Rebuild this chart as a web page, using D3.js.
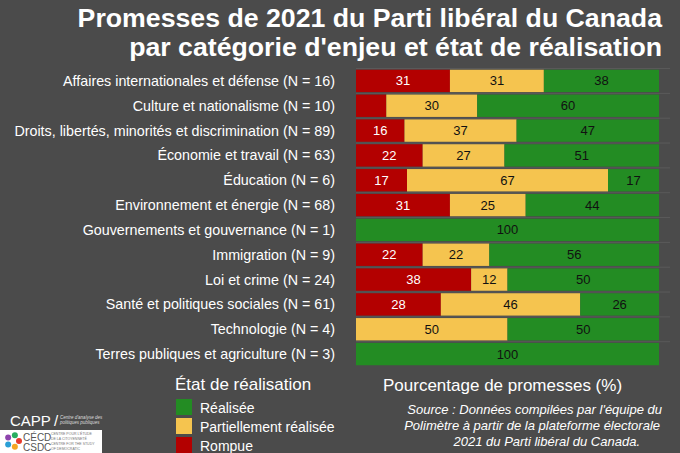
<!DOCTYPE html>
<html><head><meta charset="utf-8">
<script src="https://cdn.jsdelivr.net/npm/d3@7"></script>
<style>body{margin:0;background:#4b4b4b}svg{display:block;font-family:"Liberation Sans",Arial,sans-serif}</style>
</head><body><svg id="c" width="680" height="453"></svg>
<script>
var categories = ["Affaires internationales et défense (N = 16)","Culture et nationalisme (N = 10)","Droits, libertés, minorités et discrimination (N = 89)","Économie et travail (N = 63)","Éducation (N = 6)","Environnement et énergie (N = 68)","Gouvernements et gouvernance (N = 1)","Immigration (N = 9)","Loi et crime (N = 24)","Santé et politiques sociales (N = 61)","Technologie (N = 4)","Terres publiques et agriculture (N = 3)"];
var rompue = [31,10,16,22,17,31,0,22,38,28,0,0];
var partielle = [31,30,37,27,67,25,0,22,12,46,50,0];
var realisee = [38,60,47,51,17,44,100,56,50,26,50,100];
var showRompueLabel = [true,false,true,true,true,true,false,true,true,true,false,false];

var svg = d3.select("#c");
var colors = {r:"#b30000", p:"#f5c44f", g:"#238c23"};

svg.append("text").attr("x",662).attr("y",27).attr("text-anchor","end").attr("fill","#fff")
  .attr("font-size",26.7).attr("font-weight","bold").text("Promesses de 2021 du Parti libéral du Canada");
svg.append("text").attr("x",662).attr("y",56).attr("text-anchor","end").attr("fill","#fff")
  .attr("font-size",26.7).attr("font-weight","bold").text("par catégorie d'enjeu et état de réalisation");

var y = d3.scaleBand().domain(categories).range([68.5,366.5]).paddingInner(0.1).paddingOuter(0.05);
var x0 = 356, x1 = 659;

// faint gridlines
svg.append("g").selectAll("line").data(categories).join("line")
  .attr("x1",x0).attr("x2",670).attr("y1",d=>y(d)-1.2).attr("y2",d=>y(d)-1.2)
  .attr("stroke","#5a5a5a").attr("stroke-width",1);

categories.forEach(function(c,i){
  var segs = [{v:rompue[i],k:"r",show:showRompueLabel[i]},{v:partielle[i],k:"p",show:true},{v:realisee[i],k:"g",show:true}];
  var total = d3.sum(segs,d=>d.v);
  var x = d3.scaleLinear().domain([0,total]).range([x0,x1]);
  var acc = 0;
  segs.forEach(function(s){
    if(s.v<=0) return;
    var a = acc, b = acc + s.v; acc = b;
    svg.append("rect").attr("x",x(a)).attr("y",y(c)).attr("width",x(b)-x(a)).attr("height",y.bandwidth()).attr("fill",colors[s.k]);
    if(s.show) svg.append("text").attr("x",(x(a)+x(b))/2).attr("y",y(c)+y.bandwidth()/2+4.5)
      .attr("text-anchor","middle").attr("font-size",13).attr("fill",s.k=="r"?"#fff":"#111").text(s.v);
  });
  svg.append("text").attr("x",335).attr("y",y(c)+y.bandwidth()/2+5).attr("text-anchor","end")
    .attr("font-size",14.3).attr("fill","#fff").text(c);
});

// legend
svg.append("text").attr("x",175).attr("y",390).attr("fill","#fff").attr("font-size",17).text("État de réalisation");
var leg = [["Réalisée",colors.g],["Partiellement réalisée",colors.p],["Rompue",colors.r]];
leg.forEach(function(l,i){
  svg.append("rect").attr("x",176).attr("y",399+i*19).attr("width",16).attr("height",16).attr("fill",l[1]);
  svg.append("text").attr("x",200).attr("y",413+i*19).attr("fill","#fff").attr("font-size",14).text(l[0]);
});

svg.append("text").attr("x",383).attr("y",391).attr("fill","#fff").attr("font-size",17).text("Pourcentage de promesses (%)");
["Source : Données compilées par l'équipe du","Polimètre à partir de la plateforme électorale","2021 du Parti libéral du Canada."].forEach(function(t,i){
  svg.append("text").attr("x",[662,660,640][i]).attr("y",414+i*16).attr("text-anchor","end").attr("fill","#fff")
    .attr("font-size",13).attr("font-style","italic").text(t);
});

// logos
svg.append("text").attr("x",10).attr("y",426).attr("fill","#fff").attr("font-size",15).text("CAPP");
svg.append("text").attr("x",54).attr("y",426).attr("fill","#fff").attr("font-size",15).text("/");
svg.append("text").attr("x",60).attr("y",419).attr("fill","#ddd").attr("font-size",4.5).attr("font-style","italic").text("Centre d'analyse des");
svg.append("text").attr("x",60).attr("y",424).attr("fill","#ddd").attr("font-size",4.5).attr("font-style","italic").text("politiques publiques");
svg.append("rect").attr("x",0).attr("y",430).attr("width",102).attr("height",23).attr("fill","#fff");
var dc = ["#e63b2e","#f5a623","#2a9fd6","#8e44ad","#27ae60"];
dc.forEach(function(c,i){
  var a = i/dc.length*2*Math.PI;
  svg.append("circle").attr("cx",13+6*Math.cos(a)).attr("cy",441+6*Math.sin(a)).attr("r",3).attr("fill",c);
});
svg.append("text").attr("x",23).attr("y",441).attr("fill","#555").attr("font-size",10).text("CÉCD");
svg.append("text").attr("x",23).attr("y",451).attr("fill","#555").attr("font-size",10).text("CSDC");
["CENTRE POUR L'ÉTUDE","DE LA CITOYENNETÉ","CENTRE FOR THE STUDY","OF DEMOCRATIC"].forEach(function(t,i){
  svg.append("text").attr("x",51).attr("y",435+i*5).attr("fill","#777").attr("font-size",3.5).text(t);
});
</script></body></html>
